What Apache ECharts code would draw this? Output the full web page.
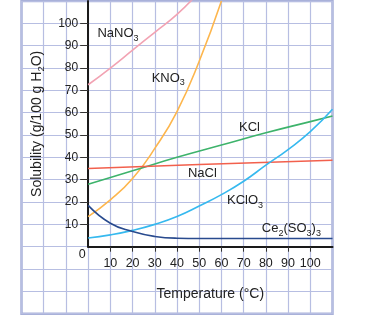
<!DOCTYPE html>
<html><head><meta charset="utf-8">
<script src="https://cdn.jsdelivr.net/npm/echarts@6/dist/echarts.min.js"></script>
<style>html,body{margin:0;padding:0;background:#fff}#c{width:375px;height:336px}</style>
</head><body><div id="c"></div>
<script>
// Temperatures (°C) and solubilities (g/100 g H2O)
const tempNaNO3 = [0, 10, 20, 30, 40, 50];
const solNaNO3  = [72.5, 80, 88, 96, 104, 114];
const tempKNO3 = [0, 10, 20, 30, 40, 50, 60];
const solKNO3  = [13.5, 21, 30.5, 44, 60.5, 83, 110];
const tempKCl = [0, 20, 40, 60, 80, 100, 110];
const solKCl  = [28, 34, 40, 45.5, 51, 56, 58.5];
const tempNaCl = [0, 50, 110];
const solNaCl  = [35, 36.8, 38.7];
const tempKClO3 = [0, 10, 20, 30, 40, 50, 60, 70, 80, 90, 100, 110];
const solKClO3  = [3.9, 5.3, 7.3, 10, 13.5, 18.2, 23.3, 29.3, 36.5, 43.5, 51.5, 61.5];
const tempCe = [0, 10, 20, 30, 40, 50, 60, 70, 80, 90, 100, 110];
const solCe  = [18.5, 10.5, 6.8, 4.6, 3.8, 3.7, 3.7, 3.7, 3.7, 3.7, 3.7, 3.7];
const tickValues = [10, 20, 30, 40, 50, 60, 70, 80, 90, 100];

const zip = (xs, ys) => xs.map((x, i) => [x, ys[i]]);
const FONT = 'Liberation Sans, Arial, sans-serif';
const NARROW = 'Liberation Sans Narrow, Liberation Sans, Arial, sans-serif';
const rich = {
  b: { fontSize: 13, fontFamily: FONT, color: '#222' },
  s: { fontSize: 9, fontFamily: FONT, color: '#222', padding: [9, 0, 0, 0] }
};
const richT = {
  b: { fontSize: 14, fontFamily: FONT, color: '#222' },
  s: { fontSize: 9.5, fontFamily: FONT, color: '#222', padding: [9, 0, 0, 0] }
};
function mk(coord, text) {
  return {
    symbol: 'circle', symbolSize: 0, silent: true,
    itemStyle: { color: 'rgba(0,0,0,0)' },
    data: [{ coord: coord, value: 0 }],
    label: { show: true, position: [0, 0], align: 'left', verticalAlign: 'middle',
      formatter: text, rich: rich }
  };
}
function line(name, xs, ys, color, m) {
  return {
    name: name, type: 'line', xAxisIndex: 1, yAxisIndex: 1,
    data: zip(xs, ys), smooth: 0.5, symbol: 'none',
    lineStyle: { color: color, width: 1.6 }, silent: true, z: 3,
    markPoint: m
  };
}

const chart = echarts.init(document.getElementById('c'), null, { renderer: 'canvas' });
const gridLine = { show: true, lineStyle: { color: '#b7bee2', width: 1.2 } };
chart.setOption({
  animation: false,
  grid: [
    { left: 21.5, right: 42.5, top: 1, bottom: 22.3, show: true, borderColor: '#a9b1d9', borderWidth: 2.5, containLabel: false, outerBoundsMode: 'none' },
    { left: 88.15, right: 42.5, top: 1, bottom: 89.3, containLabel: false, outerBoundsMode: 'none' }
  ],
  xAxis: [
    { gridIndex: 0, type: 'value', min: -30, max: 110, interval: 10,
      axisLine: { show: false }, axisTick: { show: false }, axisLabel: { show: false }, splitLine: gridLine },
    { gridIndex: 1, type: 'value', min: 0, max: 110, interval: 10,
      axisLine: { show: true, onZero: false, lineStyle: { color: '#1a1a1a', width: 2 } },
      axisTick: { show: true, length: 5, customValues: tickValues, lineStyle: { color: '#333', width: 1 } },
      axisLabel: { show: true, customValues: tickValues, margin: 10, fontSize: 12.5, fontFamily: NARROW, color: '#222' },
      splitLine: { show: false },
      name: 'Temperature (°C)', nameLocation: 'middle', nameGap: 40,
      nameTextStyle: { fontSize: 14, fontFamily: FONT, color: '#222' } }
  ],
  yAxis: [
    { gridIndex: 0, type: 'value', min: -30, max: 110, interval: 10,
      axisLine: { show: false }, axisTick: { show: false }, axisLabel: { show: false }, splitLine: gridLine },
    { gridIndex: 1, type: 'value', min: 0, max: 110, interval: 10,
      axisLine: { show: true, onZero: false, lineStyle: { color: '#1a1a1a', width: 2 } },
      axisTick: { show: true, length: 8, customValues: tickValues, lineStyle: { color: '#333', width: 1 } },
      axisLabel: { show: true, customValues: tickValues, margin: 10, fontSize: 12, fontFamily: NARROW, color: '#222' },
      splitLine: { show: false },
      name: '{b|Solubility (g/100 g H}{s|2}{b|O)}', nameLocation: 'middle', nameGap: 42,
      nameTextStyle: { fontSize: 14, fontFamily: FONT, color: '#222', rich: richT } }
  ],
  series: [
    line('NaNO3', tempNaNO3, solNaNO3, '#f2a3b3', mk([4.2, 95.4], '{b|NaNO}{s|3}')),
    line('KNO3', tempKNO3, solKNO3, '#fdb64d', mk([28.6, 75.5], '{b|KNO}{s|3}')),
    line('KCl', tempKCl, solKCl, '#3db36b', mk([67.9, 53.4], '{b|KCl}')),
    line('NaCl', tempNaCl, solNaCl, '#f2604d', mk([44.9, 33], '{b|NaCl}')),
    line('KClO3', tempKClO3, solKClO3, '#36b9ef', mk([62.5, 20.5], '{b|KClO}{s|3}')),
    line('Ce2(SO3)3', tempCe, solCe, '#284a8e', mk([78.2, 8.1], '{b|Ce}{s|2}{b|(SO}{s|3}{b|)}{s|3}')),
    { type: 'scatter', xAxisIndex: 1, yAxisIndex: 1, data: [], silent: true,
      markPoint: { symbol: 'circle', symbolSize: 0, silent: true, itemStyle: { color: 'rgba(0,0,0,0)' },
        data: [{ coord: [0, 0], value: 0 }],
        label: { show: true, position: [0, 0], align: 'center', verticalAlign: 'middle', offset: [-6, 7.5],
          formatter: '0', fontSize: 12.5, fontFamily: FONT, color: '#222' } } }
  ]
});
</script></body></html>
